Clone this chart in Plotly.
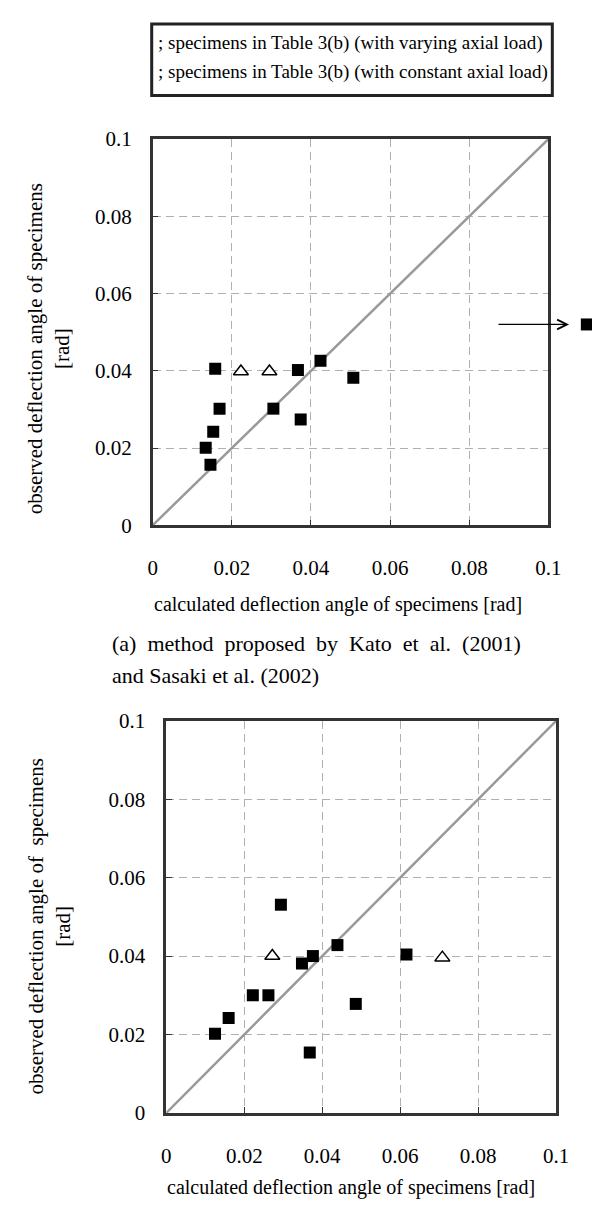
import plotly.graph_objects as go

# ---------------- data ----------------
tick_vals = [0, 0.02, 0.04, 0.06, 0.08, 0.1]
tick_text = ["0", "0.02", "0.04", "0.06", "0.08", "0.1"]
diag_x = [0, 0.1]
diag_y = [0, 0.1]

# (a) Kato et al. / Sasaki et al.
a_vary_x = [0.0158, 0.0367, 0.0424, 0.0507, 0.0169, 0.0305, 0.0374, 0.0153, 0.0134, 0.0146]
a_vary_y = [0.0405, 0.0402, 0.0426, 0.0382, 0.0302, 0.0302, 0.0274, 0.0242, 0.0201, 0.0157]
a_const_x = [0.0223, 0.0295]
a_const_y = [0.0398, 0.0398]
a_out_x = [0.1097]
a_out_y = [0.0520]
a_arrow_from = [0.087, 0.0520]
a_arrow_to = [0.1052, 0.0520]

# (b)
b_vary_x = [0.0294, 0.0376, 0.0348, 0.0439, 0.0616, 0.0222, 0.0262, 0.0486, 0.0160, 0.0125, 0.0368]
b_vary_y = [0.0531, 0.0400, 0.0381, 0.0428, 0.0404, 0.0300, 0.0300, 0.0278, 0.0242, 0.0202, 0.0154]
b_const_x = [0.0272, 0.0708]
b_const_y = [0.0400, 0.0396]

legend_lines = ["; specimens in Table 3(b) (with varying axial load)",
                "; specimens in Table 3(b) (with constant axial load)"]
x_title = "calculated deflection angle of specimens [rad]"
y_title_a = "observed deflection angle of specimens<br>[rad]"
y_title_b = "observed deflection angle of  specimens<br>[rad]"
caption_a1 = "(a)  method  proposed  by  Kato  et  al.  (2001)"
caption_a2 = "and Sasaki et al. (2002)"

FONT = "Liberation Serif"
W, H = 600, 1211

def px(x):
    return x / W

def py(y):
    return 1 - y / H

# plot frames (pixels)
A_L, A_R, A_T, A_B = 144, 552, 121.5, 515.5
B_L, B_R, B_T, B_B = 158, 560, 715, 1115

fig = go.Figure()

sq = dict(symbol="square", size=12, color="black")
tri = dict(symbol="triangle-up", size=13, color="white", line=dict(color="black", width=1.5))

for xa, ya in (("x", "y"), ("x2", "y2")):
    fig.add_trace(go.Scatter(x=diag_x, y=diag_y, mode="lines", xaxis=xa, yaxis=ya,
                             line=dict(color="#999999", width=2.5), showlegend=False,
                             hoverinfo="skip"))

fig.add_trace(go.Scatter(x=a_vary_x, y=a_vary_y, mode="markers", marker=sq,
                         xaxis="x", yaxis="y", showlegend=False))
fig.add_trace(go.Scatter(x=a_const_x, y=a_const_y, mode="markers", marker=tri,
                         xaxis="x", yaxis="y", showlegend=False))
# off-scale point drawn on an invisible extended axis with identical scale
fig.add_trace(go.Scatter(x=a_out_x, y=a_out_y, mode="markers", marker=sq,
                         xaxis="x3", yaxis="y3", showlegend=False))

fig.add_trace(go.Scatter(x=b_vary_x, y=b_vary_y, mode="markers", marker=sq,
                         xaxis="x2", yaxis="y2", showlegend=False))
fig.add_trace(go.Scatter(x=b_const_x, y=b_const_y, mode="markers", marker=tri,
                         xaxis="x2", yaxis="y2", showlegend=False))

axis_common = dict(
    range=[0, 0.1], tickvals=tick_vals, ticktext=tick_text,
    showgrid=True, gridcolor="#b0b0b0", gridwidth=1, griddash="8px,5px",
    zeroline=False, showline=True, mirror=True, linecolor="#333333", linewidth=2.5,
    ticks="inside", ticklen=6, tickcolor="#333333", tickwidth=1,
    tickfont=dict(family=FONT, size=21, color="black"),
    fixedrange=True,
)

ext_right = 600
fig.update_layout(
    width=W, height=H, margin=dict(l=0, r=0, t=0, b=0),
    paper_bgcolor="white", plot_bgcolor="rgba(0,0,0,0)",
    xaxis=dict(domain=[px(A_L), px(A_R)], anchor="y", ticklabelstandoff=22, **axis_common),
    yaxis=dict(domain=[py(A_B), py(A_T)], anchor="x", ticklabelstandoff=14, **axis_common),
    xaxis2=dict(domain=[px(B_L), px(B_R)], anchor="y2", ticklabelstandoff=22, **axis_common),
    yaxis2=dict(domain=[py(B_B), py(B_T)], anchor="x2", ticklabelstandoff=14, **axis_common),
    xaxis3=dict(domain=[px(A_L), px(ext_right)], anchor="y3", visible=False, fixedrange=True,
                showgrid=False, zeroline=False,
                range=[0, 0.1 * (ext_right - A_L) / (A_R - A_L)]),
    yaxis3=dict(domain=[py(A_B), py(A_T)], anchor="x3", visible=False, fixedrange=True,
                showgrid=False, zeroline=False, range=[0, 0.1]),
)

# legend box
fig.add_shape(type="rect", xref="paper", yref="paper",
              x0=px(143), x1=px(556), y0=py(77), y1=py(4),
              line=dict(color="#222222", width=3), fillcolor="white", layer="below")
for i, t in enumerate(legend_lines):
    fig.add_annotation(text=t, xref="paper", yref="paper", x=px(147), y=py(23 + 30 * i),
                       xanchor="left", yanchor="middle", showarrow=False,
                       font=dict(family=FONT, size=19, color="black"))

# arrow pointing to off-scale point
fig.add_annotation(x=a_arrow_to[0], y=a_arrow_to[1], ax=a_arrow_from[0], ay=a_arrow_from[1],
                   xref="x3", yref="y3", axref="x3", ayref="y3", text="", showarrow=True,
                   arrowhead=5, arrowsize=1.6, arrowwidth=1.2, arrowcolor="black")

# axis titles
fig.add_annotation(text=x_title, xref="paper", yref="paper", x=px(335), y=py(596),
                   xanchor="center", yanchor="middle", showarrow=False,
                   font=dict(family=FONT, size=20, color="black"))
fig.add_annotation(text=x_title, xref="paper", yref="paper", x=px(348), y=py(1191),
                   xanchor="center", yanchor="middle", showarrow=False,
                   font=dict(family=FONT, size=20, color="black"))
fig.add_annotation(text=y_title_a, xref="paper", yref="paper", x=px(36), y=py(335),
                   xanchor="center", yanchor="middle", showarrow=False, textangle=-90,
                   font=dict(family=FONT, size=21, color="black"))
fig.add_annotation(text=y_title_b, xref="paper", yref="paper", x=px(38), y=py(925),
                   xanchor="center", yanchor="middle", showarrow=False, textangle=-90,
                   font=dict(family=FONT, size=21, color="black"))

# caption
fig.add_annotation(text=caption_a1, xref="paper", yref="paper", x=px(100), y=py(636),
                   xanchor="left", yanchor="middle", showarrow=False,
                   font=dict(family=FONT, size=22, color="black"))
fig.add_annotation(text=caption_a2, xref="paper", yref="paper", x=px(100), y=py(669),
                   xanchor="left", yanchor="middle", showarrow=False,
                   font=dict(family=FONT, size=22, color="black"))

fig.write_html("out.html")
